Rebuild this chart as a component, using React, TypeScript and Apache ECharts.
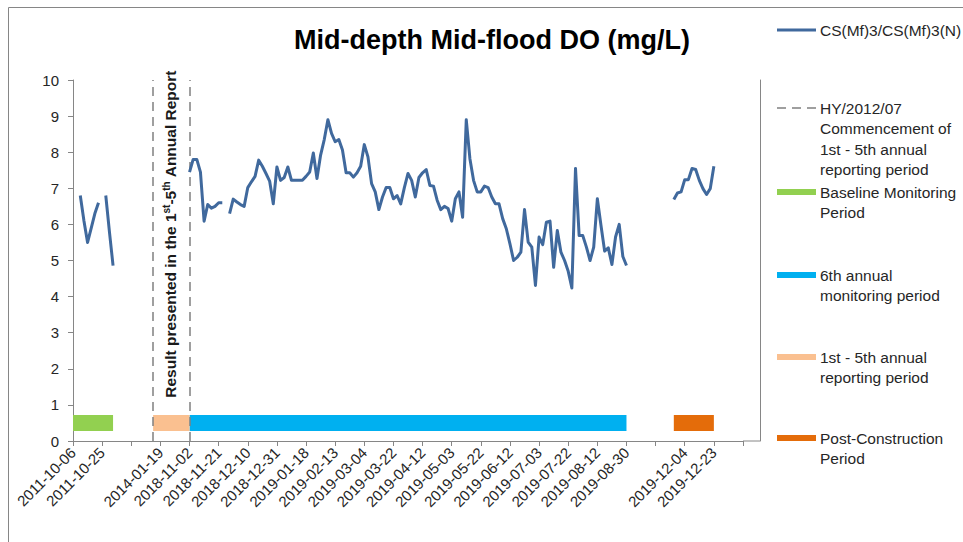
import React, { useEffect, useRef } from "react";
import * as echarts from "echarts";

// ---------- data ----------
const tickLabels = [
  "2011-10-06", "2011-10-25", "", "2014-01-19", "2018-11-02", "2018-11-21",
  "2018-12-10", "2018-12-31", "2019-01-18", "2019-02-13", "2019-03-04",
  "2019-03-22", "2019-04-12", "2019-05-03", "2019-05-22", "2019-06-12",
  "2019-07-03", "2019-07-22", "2019-08-12", "2019-08-30", "", "2019-12-04",
  "2019-12-23", "",
];
const categoryCount = 185;
const labelStep = 8;

const seriesName = "CS(Mf)3/CS(Mf)3(N)";
const baselineStart = 2;
const baselineDO = [6.8, 6.1, 5.5, 5.9, 6.3, 6.6, null, 6.8, 5.8, 4.86];
const mainStart = 32;
const mainDO = [
  7.45, 7.8, 7.8, 7.45, 6.09, 6.55, 6.45, 6.5, 6.6, 6.6,
  null, 6.3, 6.7, 6.62, 6.55, 6.5, 7.02, 7.18, 7.33, 7.78,
  7.61, 7.41, 7.2, 6.57, 7.59, 7.22, 7.3, 7.59, 7.22, 7.22,
  7.22, 7.22, 7.33, 7.45, 7.98, 7.27, 7.92, 8.35, 8.9, 8.52,
  8.29, 8.35, 8.06, 7.43, 7.43, 7.31, 7.43, 7.61, 8.21, 7.87,
  7.13, 6.9, 6.41, 6.76, 7.02, 7.02, 6.71, 6.8, 6.57, 7.02,
  7.41, 7.22, 6.76, 7.3, 7.43, 7.52, 7.08, 7.06, 6.67, 6.41,
  6.5, 6.44, 6.09, 6.71, 6.9, 6.2, 8.9, 7.82, 7.22, 6.9,
  6.9, 7.06, 7.02, 6.76, 6.57, 6.57, 6.16, 5.88, 5.46, 5.0,
  5.09, 5.23, 6.41, 5.51, 5.37, 4.31, 5.65, 5.44, 6.06, 6.09,
  4.81, 5.83, 5.23, 5.0, 4.7, 4.24, 7.55, 5.69, 5.69, 5.37,
  5.0, 5.37, 6.71, 5.97, 5.26, 5.35, 4.89, 5.65, 6.0, 5.11, 4.86,
];
const postStart = 165;
const postDO = [6.69, 6.87, 6.9, 7.24, 7.24, 7.55, 7.52, 7.22, 6.99, 6.83, 6.99, 7.61];

const periodNames = [
  "Baseline Monitoring Period",
  "6th annual monitoring period",
  "1st - 5th annual reporting period",
  "Post-Construction Period",
];
const periodStart = [0, 32, 22, 165];
const periodEnd = [11, 152, 32, 176];
const periodLevel = 0.5;

const markerName = "HY/2012/07 Commencement of 1st - 5th annual reporting period";
const markerCategories = [22, 32];

const legendLabels = [
  "CS(Mf)3/CS(Mf)3(N)",
  "HY/2012/07\nCommencement of\n1st - 5th annual\nreporting period",
  "Baseline Monitoring\nPeriod",
  "6th annual\nmonitoring period",
  "1st - 5th annual\nreporting period",
  "Post-Construction\nPeriod",
];

// ---------- styles ----------
const FONT = "'Liberation Sans', Arial, sans-serif";
const LINE_COLOR = "#40699D";
const PERIOD_COLORS = ["#92D050", "#00B0F0", "#FAC090", "#E46C0A"];
const DASH_COLOR = "#808080";
const AXIS_COLOR = "#868686";
const TEXT_COLOR = "#262626";

const fillSeries = (start: number, vals: (number | null)[]) => {
  const arr: (number | null)[] = new Array(categoryCount).fill(null);
  vals.forEach((v, k) => {
    arr[start + k] = v;
  });
  return arr;
};

export default function App() {
  const ref = useRef<HTMLDivElement>(null);

  useEffect(() => {
    if (!ref.current) return;
    const chart = echarts.init(ref.current, undefined, { renderer: "svg" });

    const categories = Array.from({ length: categoryCount }, (_, i) => `c${i}`);
    const doData: (number | null)[] = new Array(categoryCount).fill(null);
    [
      [baselineStart, baselineDO],
      [mainStart, mainDO],
      [postStart, postDO],
    ].forEach(([s, vals]: any) => {
      (vals as (number | null)[]).forEach((v, k) => {
        doData[s + k] = v;
      });
    });

    const periodSeries = periodNames.map((name, i) => ({
      name,
      type: "line",
      data: fillSeries(
        periodStart[i],
        new Array(periodEnd[i] - periodStart[i] + 1).fill(periodLevel)
      ),
      symbol: "none",
      connectNulls: false,
      lineStyle: { color: PERIOD_COLORS[i], width: 16, cap: "butt" },
      itemStyle: { color: PERIOD_COLORS[i] },
      z: 2,
      silent: true,
    }));

    // legend drawn as graphic so icons align with first text line
    const legendY = [30, 108, 192, 275, 357, 438];
    const legendGraphics: any[] = [];
    legendLabels.forEach((label, i) => {
      const y = legendY[i];
      if (i === 0) {
        legendGraphics.push({
          type: "line",
          shape: { x1: 777, y1: y, x2: 816, y2: y },
          style: { stroke: LINE_COLOR, lineWidth: 3 },
        });
      } else if (i === 1) {
        legendGraphics.push({
          type: "line",
          shape: { x1: 777, y1: y, x2: 816, y2: y },
          style: { stroke: DASH_COLOR, lineWidth: 1.5, lineDash: [9, 6] },
        });
      } else {
        legendGraphics.push({
          type: "rect",
          shape: { x: 777, y: y - 3, width: 39, height: 6 },
          style: { fill: PERIOD_COLORS[i - 2] },
        });
      }
      legendGraphics.push({
        type: "text",
        x: 820,
        y: y - 10,
        style: {
          text: label,
          fontSize: 15.5,
          fontFamily: FONT,
          fill: TEXT_COLOR,
          lineHeight: 20.5,
          verticalAlign: "top",
          align: "left",
        },
      });
    });

    chart.setOption({
      animation: false,
      backgroundColor: "#ffffff",
      title: {
        text: "Mid-depth Mid-flood DO (mg/L)",
        left: 289,
        top: 21,
        textStyle: { fontSize: 27, fontWeight: "bold", fontFamily: FONT, color: "#000000" },
      },
      grid: { left: 73, right: 220, top: 80, bottom: 101 },
      xAxis: {
        type: "category",
        data: categories,
        boundaryGap: false,
        axisLine: { show: true, lineStyle: { color: AXIS_COLOR, width: 1 } },
        axisTick: {
          show: true,
          interval: labelStep - 1,
          length: 5,
          lineStyle: { color: AXIS_COLOR },
        },
        axisLabel: {
          interval: labelStep - 1,
          rotate: 45,
          margin: 9,
          fontSize: 15,
          fontFamily: FONT,
          color: TEXT_COLOR,
          formatter: (_v: string, idx: number) =>
            idx % labelStep === 0 ? tickLabels[idx / labelStep] ?? "" : "",
        },
        splitLine: { show: false },
      },
      yAxis: [
        {
          type: "value",
          min: 0,
          max: 10,
          interval: 1,
          axisLine: { show: true, lineStyle: { color: AXIS_COLOR } },
          axisTick: { show: true, length: 5, lineStyle: { color: AXIS_COLOR } },
          axisLabel: { fontSize: 15, fontFamily: FONT, color: TEXT_COLOR, margin: 14 },
          splitLine: { show: false },
        },
        {
          type: "value",
          position: "right",
          offset: 17,
          min: 0,
          max: 10,
          interval: 1,
          axisLine: { show: true, lineStyle: { color: AXIS_COLOR } },
          axisTick: { show: false },
          axisLabel: { show: false },
          splitLine: { show: false },
        },
      ],
      series: [
        ...periodSeries,
        {
          name: markerName,
          type: "line",
          data: new Array(categoryCount).fill(null),
          symbol: "none",
          silent: true,
          markLine: {
            silent: true,
            symbol: ["none", "none"],
            label: { show: false },
            lineStyle: { color: DASH_COLOR, width: 1.5, type: [9, 6] },
            data: markerCategories.map((c) => ({ xAxis: categories[c] })),
          },
          z: 3,
        },
        {
          name: seriesName,
          type: "line",
          data: doData,
          symbol: "none",
          connectNulls: false,
          lineStyle: { color: LINE_COLOR, width: 3, join: "round" },
          itemStyle: { color: LINE_COLOR },
          z: 5,
        },
      ],
      graphic: [
        {
          type: "rect",
          shape: { x: 8.5, y: 7.5, width: 1000, height: 600 },
          style: { fill: "none", stroke: AXIS_COLOR, lineWidth: 1 },
          silent: true,
          z: -10,
        },
        {
          type: "line",
          shape: { x1: 743, y1: 441, x2: 760, y2: 441 },
          style: { stroke: AXIS_COLOR, lineWidth: 1 },
        },
        {
          type: "text",
          x: 170,
          y: 234,
          rotation: Math.PI / 2,
          style: {
            text: "{b|Result presented in the 1}{s|st}{b|-5}{s|th}{b| Annual Report}",
            align: "center",
            verticalAlign: "middle",
            fill: "#1a1a1a",
            rich: {
              b: { fontSize: 15.5, fontWeight: "bold", fontFamily: FONT, fill: "#1a1a1a", lineHeight: 18 },
              s: {
                fontSize: 10,
                fontWeight: "bold",
                fontFamily: FONT,
                fill: "#1a1a1a",
                verticalAlign: "top",
                lineHeight: 18,
              },
            },
          },
        },
        ...legendGraphics,
      ],
    });

    return () => {
      chart.dispose();
    };
  }, []);

  return (
    <div
      ref={ref}
      style={{ position: "fixed", left: 0, top: 0, width: 963, height: 542, background: "#fff" }}
    />
  );
}
